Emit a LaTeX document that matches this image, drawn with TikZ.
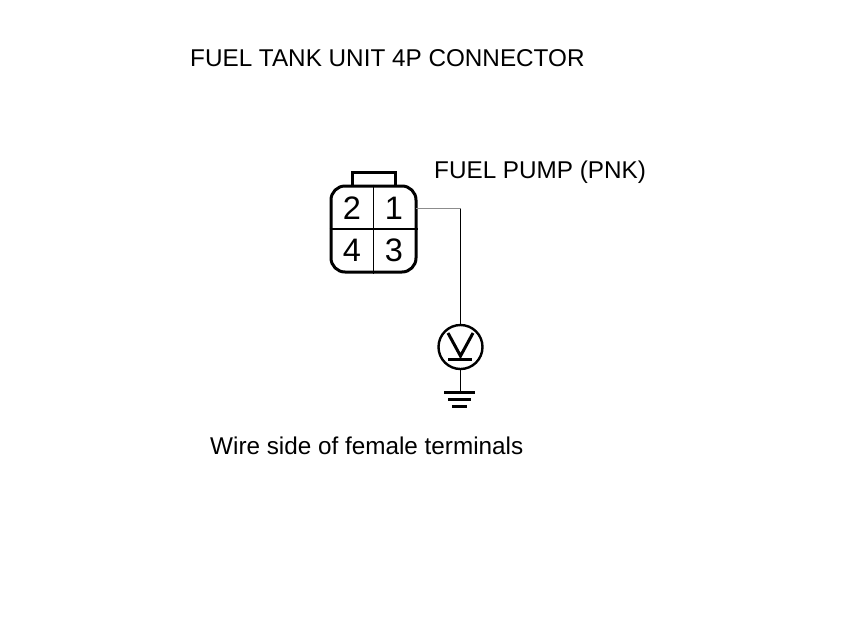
\documentclass[tikz,border=0pt]{standalone}
\usepackage{fontspec}
\setmainfont{Liberation Sans}
\begin{document}
\begin{tikzpicture}[x=1pt,y=-1pt,
  label text/.style={inner sep=0pt,anchor=base west,font=\fontsize{24.28}{26}\selectfont},
  pin text/.style={inner sep=0pt,font=\fontsize{32.5}{34}\selectfont},
  thick line/.style={line width=3pt,black},
  thin line/.style={line width=1.5pt,black}]
\useasboundingbox (0,0) rectangle (860,630);
\fill[white] (0,0) rectangle (860,630);
\node[label text] (title) at (190,66) {FUEL TANK UNIT 4P CONNECTOR};
\node[label text] (pump) at (434,178) {FUEL PUMP (PNK)};
\node[label text] (note) at (210,454) {Wire side of female terminals};
% connector
\draw[thick line] (352.5,187) -- (352.5,172.5) -- (395.5,172.5) -- (395.5,187);
\node[draw,thick line,rounded corners=14pt,minimum width=85pt,minimum height=86pt,inner sep=0pt] (body) at (373.5,229) {};
\draw[thin line] (body.north) -- (body.south);
\draw[thin line] (body.west) -- (body.east);
\node[pin text] (p2) at (352,208) {2};
\node[pin text] (p1) at (394,208) {1};
\node[pin text] (p4) at (352,250.5) {4};
\node[pin text] (p3) at (394,250.5) {3};
% meter
\node[draw,line width=2.4pt,circle,minimum size=44pt,inner sep=0pt] (meter) at (460.5,347) {};
\coordinate (wirestart) at (416,208.5);
\coordinate (corner) at (460.5,208.5);
\coordinate (gnd) at (460.5,392);
\draw[line width=1pt,black!45] (wirestart) -- (corner);
\draw[thin line] (corner) -- (meter.north);
\draw[thin line] (meter.south) -- (gnd);
\draw[thick line] (448,333) -- (460.5,356) -- (473,333);
\draw[thick line] (448,359) -- (472,359);
\draw[thick line] (444,392) -- (475,392);
\draw[line width=2.4pt] (448,399.5) -- (471,399.5);
\draw[line width=2.4pt] (452,406.5) -- (467,406.5);
\end{tikzpicture}
\end{document}
